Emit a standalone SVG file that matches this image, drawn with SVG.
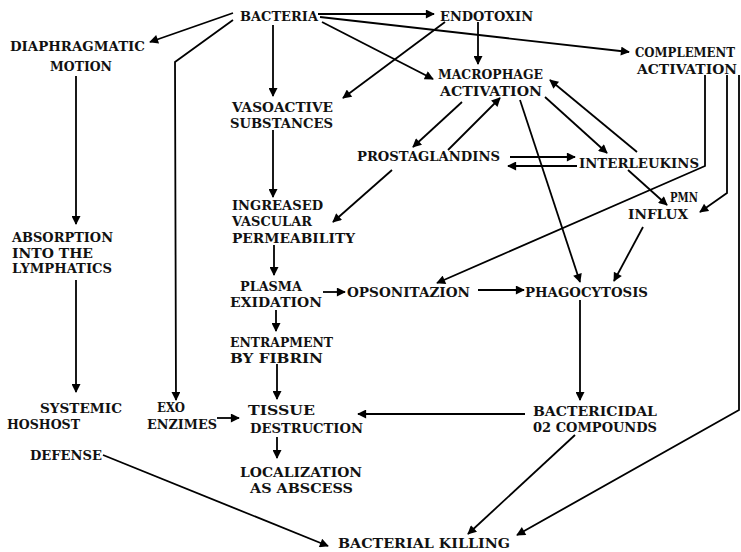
<svg xmlns="http://www.w3.org/2000/svg" width="741" height="552" viewBox="0 0 741 552">
<defs>
<marker id="ah" viewBox="0 0 10 10" refX="9" refY="5" markerWidth="10" markerHeight="9" markerUnits="userSpaceOnUse" orient="auto">
<path d="M0,0 L10,5 L0,10 z" fill="#000"/>
</marker>
<style>
text{font-family:"DejaVu Serif","Liberation Serif",serif;font-size:13px;font-weight:bold;fill:#111}
.c{fill:none;stroke:#000;stroke-width:1.8;marker-end:url(#ah)}
</style>
</defs>
<rect width="741" height="552" fill="#fff"/>
<g id="connectors">
<path class="c" d="M233,13 L150,42"/>
<path class="c" d="M233,20 L175,62 L176,400"/>
<path class="c" d="M273,25 L273,96"/>
<path class="c" d="M318,14 L434,14"/>
<path class="c" d="M320,17 L629,52"/>
<path class="c" d="M322,22 L433,79"/>
<path class="c" d="M445,22 L343,98"/>
<path class="c" d="M478,22 L478,64"/>
<path class="c" d="M462,102 L413,147"/>
<path class="c" d="M448,150 L500,98"/>
<path class="c" d="M392,170 L333,222"/>
<path class="c" d="M520,100 L580,282"/>
<path class="c" d="M545,97 L607,153"/>
<path class="c" d="M637,152 L550,80"/>
<path class="c" d="M510,157 L575,157"/>
<path class="c" d="M577,166 L508,166"/>
<path class="c" d="M628,170 L667,205"/>
<path class="c" d="M705,75 L705,166 L437,283"/>
<path class="c" d="M727,75 L727,193 L700,212"/>
<path class="c" d="M739,75 L739,410 L517,535"/>
<path class="c" d="M643,227 L614,281"/>
<path class="c" d="M273,130 L273,197"/>
<path class="c" d="M274,245 L274,275"/>
<path class="c" d="M323,292 L345,292"/>
<path class="c" d="M478,290 L524,290"/>
<path class="c" d="M276,310 L276,331"/>
<path class="c" d="M277,364 L277,399"/>
<path class="c" d="M76,76 L76,224"/>
<path class="c" d="M76,280 L76,392"/>
<path class="c" d="M217,418 L239,418"/>
<path class="c" d="M525,414 L358,414"/>
<path class="c" d="M277,437 L277,458"/>
<path class="c" d="M580,300 L580,400"/>
<path class="c" d="M575,435 L468,534"/>
<path class="c" d="M103,455 L328,546"/>
</g>
<g id="bacteria"><text x="240" y="21" textLength="78" lengthAdjust="spacingAndGlyphs">BACTERIA</text></g>
<g id="endotoxin"><text x="440" y="21" textLength="93" lengthAdjust="spacingAndGlyphs">ENDOTOXIN</text></g>
<g id="diaphragmatic"><text x="10" y="51" textLength="135" lengthAdjust="spacingAndGlyphs">DIAPHRAGMATIC</text><text x="50" y="71" textLength="62" lengthAdjust="spacingAndGlyphs">MOTION</text></g>
<g id="complement"><text x="635" y="57" style="font-size:12px" textLength="100" lengthAdjust="spacingAndGlyphs">COMPLEMENT</text><text x="637" y="74" textLength="100" lengthAdjust="spacingAndGlyphs">ACTIVATION</text></g>
<g id="macrophage"><text x="438" y="79" textLength="105" lengthAdjust="spacingAndGlyphs">MACROPHAGE</text><text x="440" y="96" textLength="102" lengthAdjust="spacingAndGlyphs">ACTIVATION</text></g>
<g id="vasoactive"><text x="232" y="112" textLength="101" lengthAdjust="spacingAndGlyphs">VASOACTIVE</text><text x="230" y="128" textLength="103" lengthAdjust="spacingAndGlyphs">SUBSTANCES</text></g>
<g id="prostaglandins"><text x="357" y="161" textLength="143" lengthAdjust="spacingAndGlyphs">PROSTAGLANDINS</text></g>
<g id="interleukins"><text x="579" y="168" textLength="120" lengthAdjust="spacingAndGlyphs">INTERLEUKINS</text></g>
<g id="permeability"><text x="232" y="210" textLength="91" lengthAdjust="spacingAndGlyphs">INGREASED</text><text x="232" y="226" textLength="80" lengthAdjust="spacingAndGlyphs">VASCULAR</text><text x="232" y="243" textLength="123" lengthAdjust="spacingAndGlyphs">PERMEABILITY</text></g>
<g id="absorption"><text x="12" y="242" textLength="101" lengthAdjust="spacingAndGlyphs">ABSORPTION</text><text x="12" y="257.5" textLength="81" lengthAdjust="spacingAndGlyphs">INTO THE</text><text x="12" y="273" textLength="100" lengthAdjust="spacingAndGlyphs">LYMPHATICS</text></g>
<g id="pmn"><text x="670" y="202" textLength="28" lengthAdjust="spacingAndGlyphs">PMN</text><text x="628" y="219" textLength="60" lengthAdjust="spacingAndGlyphs">INFLUX</text></g>
<g id="plasma"><text x="240" y="291" textLength="62" lengthAdjust="spacingAndGlyphs">PLASMA</text><text x="230" y="307" textLength="92" lengthAdjust="spacingAndGlyphs">EXIDATION</text></g>
<g id="opsonitazion"><text x="347" y="297" textLength="123" lengthAdjust="spacingAndGlyphs">OPSONITAZION</text></g>
<g id="phagocytosis"><text x="525" y="297" textLength="123" lengthAdjust="spacingAndGlyphs">PHAGOCYTOSIS</text></g>
<g id="entrapment"><text x="230" y="347" textLength="103" lengthAdjust="spacingAndGlyphs">ENTRAPMENT</text><text x="230" y="363" textLength="93" lengthAdjust="spacingAndGlyphs">BY FIBRIN</text></g>
<g id="systemic"><text x="40" y="413" textLength="82" lengthAdjust="spacingAndGlyphs">SYSTEMIC</text><text x="7" y="429" textLength="73" lengthAdjust="spacingAndGlyphs">HOSHOST</text><text x="30" y="460" textLength="72" lengthAdjust="spacingAndGlyphs">DEFENSE</text></g>
<g id="exo"><text x="157" y="412" textLength="28" lengthAdjust="spacingAndGlyphs">EXO</text><text x="147" y="429" textLength="70" lengthAdjust="spacingAndGlyphs">ENZIMES</text></g>
<g id="tissue"><text x="248" y="415" textLength="67" lengthAdjust="spacingAndGlyphs">TISSUE</text><text x="250" y="433" textLength="113" lengthAdjust="spacingAndGlyphs">DESTRUCTION</text></g>
<g id="bactericidal"><text x="533" y="416" textLength="124" lengthAdjust="spacingAndGlyphs">BACTERICIDAL</text><text x="533" y="432" textLength="124" lengthAdjust="spacingAndGlyphs">02 COMPOUNDS</text></g>
<g id="localization"><text x="240" y="477" textLength="122" lengthAdjust="spacingAndGlyphs">LOCALIZATION</text><text x="250" y="493" textLength="103" lengthAdjust="spacingAndGlyphs">AS ABSCESS</text></g>
<g id="killing"><text x="338" y="548" textLength="172" lengthAdjust="spacingAndGlyphs">BACTERIAL KILLING</text></g>
</svg>
